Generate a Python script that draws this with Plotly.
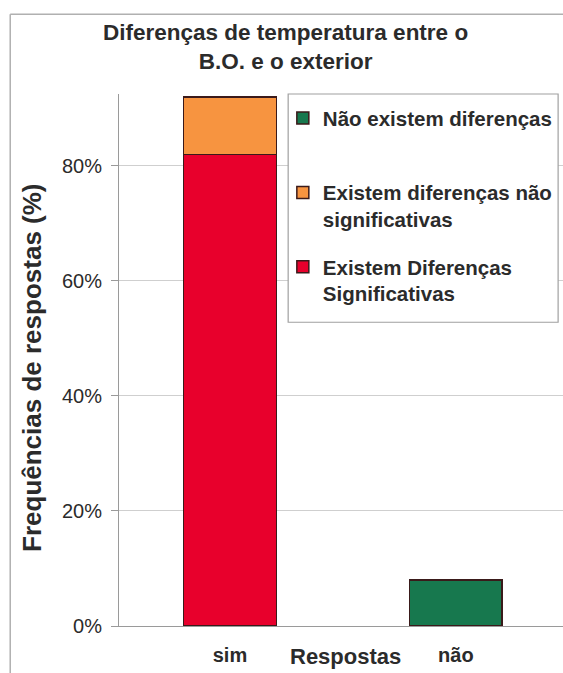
import plotly.graph_objects as go

# Data
categories = ["sim", "não"]
sig_diff = [0.82, None]        # Existem Diferenças Significativas
nonsig_diff = [0.10, None]     # Existem diferenças não significativas
no_diff = [None, 0.08]         # Não existem diferenças
y_ticks = [0, 0.2, 0.4, 0.6, 0.8]
y_tick_text = ["0%", "20%", "40%", "60%", "80%"]

FONT = "Liberation Sans, Arial, sans-serif"
TXT = "#2b2b2b"
edge = dict(color="#3a1a1a", width=1.5)

fig = go.Figure()
fig.add_bar(x=categories, y=sig_diff, name="Existem Diferenças<br>Significativas",
            marker=dict(color="#E8002C", line=edge), width=0.41,
            legendgroup="a", legendrank=3)
fig.add_bar(x=categories, y=nonsig_diff, name="Existem diferenças não<br>significativas",
            marker=dict(color="#F79440", line=edge), width=0.41,
            legendgroup="b", legendrank=2)
fig.add_bar(x=categories, y=no_diff, name="Não existem diferenças<br>&nbsp;",
            marker=dict(color="#17784E", line=edge), width=0.41,
            legendgroup="c", legendrank=1)

fig.update_layout(
    width=563, height=673,
    margin=dict(l=119, r=0, t=94, b=47),
    barmode="stack",
    paper_bgcolor="white", plot_bgcolor="white",
    font=dict(family=FONT, color=TXT, size=15),
    showlegend=True,
    legend=dict(
        x=0.369, y=0.992, xanchor="left", yanchor="top",
        traceorder="grouped", tracegroupgap=18, valign="top",
        bgcolor="rgba(0,0,0,0)", borderwidth=0,
        font=dict(family=FONT, size=20.5, color=TXT, weight="bold"),
        itemwidth=30,
    ),
    xaxis=dict(
        range=[-0.491, 1.474],
        showgrid=False, showline=True, linecolor="#9a9a9a", linewidth=1,
        ticks="", tickfont=dict(family=FONT, size=20, color=TXT, weight="bold"),
        ticklabelstandoff=11,
    ),
    yaxis=dict(
        range=[0, 0.925], tickvals=y_ticks, ticktext=y_tick_text,
        showgrid=True, gridcolor="#cfcfcf", gridwidth=1,
        showline=True, linecolor="#9a9a9a", linewidth=1,
        ticks="outside", ticklen=7, tickcolor="#9a9a9a",
        tickfont=dict(family=FONT, size=20, color=TXT),
        ticklabelstandoff=5,
    ),
    shapes=[
        # legend box
        dict(type="rect", xref="paper", yref="paper",
             x0=0.381, x1=0.989, y0=0.571, y1=1.0,
             line=dict(color="#a0a0a0", width=1.2), fillcolor="white", layer="above"),
        # chart-area frame (left and top edges)
        dict(type="line", xref="paper", yref="paper",
             x0=-0.245, x1=-0.245, y0=-0.09, y1=1.15,
             line=dict(color="#b0b0b0", width=1.5)),
        dict(type="line", xref="paper", yref="paper",
             x0=-0.245, x1=1.0, y0=1.15, y1=1.15,
             line=dict(color="#b0b0b0", width=1.5)),
    ],
    annotations=[
        dict(text="Diferenças de temperatura entre o<br>B.O. e o exterior",
             xref="paper", yref="paper", x=0.376, y=1.088, xanchor="center", yanchor="middle",
             showarrow=False, font=dict(family=FONT, size=22.5, color=TXT, weight="bold")),
        dict(text="Frequências de respostas (%)", textangle=-90,
             xref="paper", yref="paper", x=-0.196, y=0.485, xanchor="center", yanchor="middle",
             showarrow=False, font=dict(family=FONT, size=26, color=TXT, weight="bold")),
        dict(text="Respostas", xref="paper", yref="paper", x=0.511, y=-0.057,
             xanchor="center", yanchor="middle", showarrow=False,
             font=dict(family=FONT, size=22, color=TXT, weight="bold")),
    ],
)

fig.write_html("out.html")
